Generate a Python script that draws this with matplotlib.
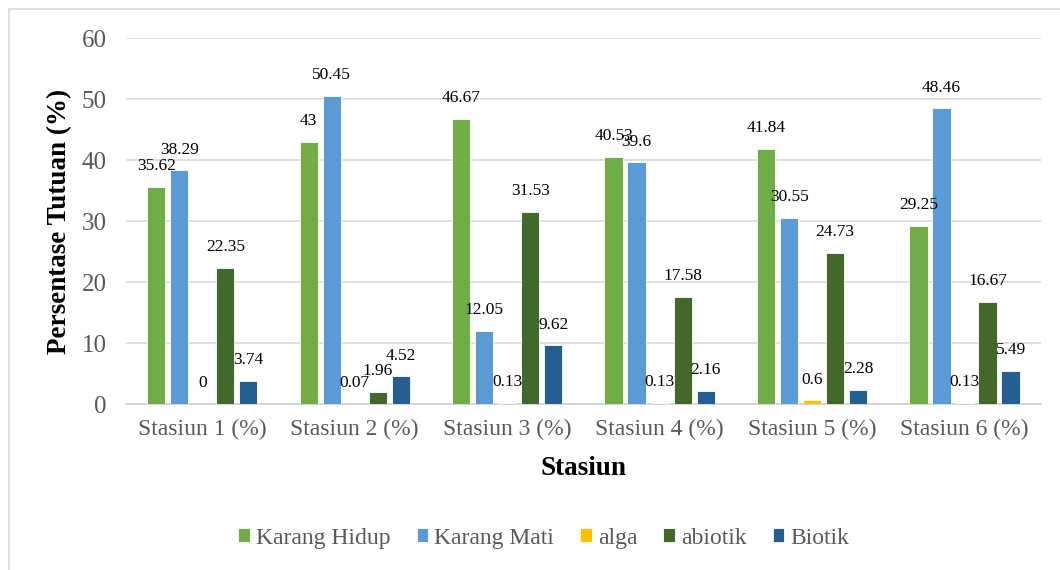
import numpy as np
import matplotlib
matplotlib.use('Agg')
import matplotlib.pyplot as plt
from matplotlib.patches import Rectangle

plt.rcParams['font.family'] = ['Liberation Serif', 'DejaVu Serif']

# data
stations = ['Stasiun 1 (%)', 'Stasiun 2 (%)', 'Stasiun 3 (%)',
            'Stasiun 4 (%)', 'Stasiun 5 (%)', 'Stasiun 6 (%)']
series_names = ['Karang Hidup', 'Karang Mati', 'alga', 'abiotik', 'Biotik']
karang_hidup = [35.62, 43, 46.67, 40.53, 41.84, 29.25]
karang_mati = [38.29, 50.45, 12.05, 39.6, 30.55, 48.46]
alga = [0, 0.07, 0.13, 0.13, 0.6, 0.13]
abiotik = [22.35, 1.96, 31.53, 17.58, 24.73, 16.67]
biotik = [3.74, 4.52, 9.62, 2.16, 2.28, 5.49]
colors = ['#70AD47', '#5B9BD5', '#FFC000', '#43682B', '#255E91']

series = [karang_hidup, karang_mati, alga, abiotik, biotik]

fig = plt.figure(figsize=(10.6, 5.7), dpi=100)
ax = fig.add_axes([0.1189, 0.2912, 0.863, 0.6421])

# light frame around the chart, like the excel chart area
fig.patches.append(Rectangle((9 / 1060, -0.1), 1.2, 1 - 9 / 570 + 0.1,
                             transform=fig.transFigure, fill=False,
                             edgecolor='#d9d9d9', lw=1.2))

x = np.arange(len(stations))
step = 0.151
width = 0.12
for i, (vals, name, col) in enumerate(zip(series, series_names, colors)):
    pos = x + (i - 2) * step
    bars = ax.bar(pos, vals, width, color=col, label=name,
                  edgecolor='white', linewidth=0.6, zorder=3)
    for b, v in zip(bars, vals):
        ax.annotate(f'{v:g}', (b.get_x() + b.get_width() / 2, b.get_height()),
                    xytext=(0, 15), textcoords='offset points',
                    ha='center', va='center', fontsize=12.5, color='black',
                    zorder=4)

ax.set_xlim(-0.5, len(stations) - 0.5)
ax.set_ylim(0, 60)
ax.set_yticks(range(0, 61, 10))
ax.set_xticks(x)
ax.set_xticklabels(stations)
ax.tick_params(axis='both', length=0, labelcolor='#595959')
ax.tick_params(axis='y', pad=14, labelsize=18)
ax.tick_params(axis='x', pad=11, labelsize=17)
ax.yaxis.grid(True, color='#d9d9d9', lw=1.2, zorder=0)
for s in ['top', 'right', 'left']:
    ax.spines[s].set_visible(False)
ax.spines['bottom'].set_color('#d0d0d0')
ax.spines['bottom'].set_linewidth(1.2)

ax.set_ylabel('Persentase Tutuan (%)', fontsize=19.5, fontweight='bold', labelpad=7)
ax.set_xlabel('Stasiun', fontsize=19.5, fontweight='bold', labelpad=11)

leg = fig.legend(loc='center', bbox_to_anchor=(0.513, 0.056), ncol=5,
                 frameon=False, fontsize=17, handlelength=0.5, handleheight=0.5,
                 handletextpad=0.25, columnspacing=1.1, labelcolor='#595959')

fig.savefig('out.png', dpi=100)
